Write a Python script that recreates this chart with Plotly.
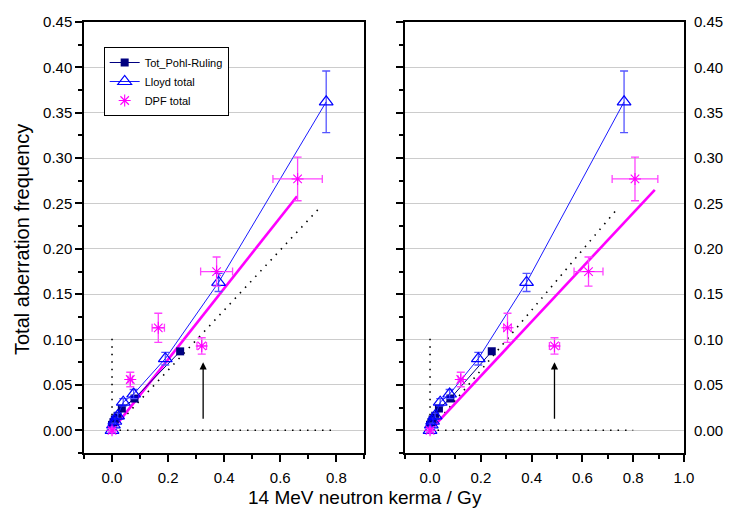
import plotly.graph_objects as go

# ---- data ----
pohl_x = [0.0, 0.005, 0.01, 0.02, 0.035, 0.08, 0.243]
pohl_y = [0.006, 0.009, 0.012, 0.016, 0.024, 0.035, 0.087]

lloyd_x = [0.0, 0.005, 0.01, 0.02, 0.04, 0.077, 0.19, 0.38, 0.764]
lloyd_y = [0.0, 0.006, 0.010, 0.016, 0.031, 0.040, 0.079, 0.163, 0.362]
lloyd_err = [0.002, 0.002, 0.003, 0.003, 0.004, 0.005, 0.007, 0.010, 0.034]

dpf_y = [0.0, 0.056, 0.113, 0.093, 0.175, 0.277]
dpf_yerr = [0.002, 0.008, 0.016, 0.009, 0.016, 0.024]
dpf_left_x = [0.0, 0.065, 0.165, 0.32, 0.373, 0.662]
dpf_left_xerr = [0.003, 0.008, 0.022, 0.017, 0.057, 0.088]
dpf_right_x = [0.0, 0.121, 0.305, 0.49, 0.624, 0.807]
dpf_right_xerr = [0.003, 0.010, 0.015, 0.020, 0.057, 0.090]

fit_left_x = [0.0, 0.66]
fit_left_y = [0.0, 0.258]
fit_right_x = [0.0, 0.885]
fit_right_y = [0.0, 0.265]

ref_diag_x = [0.0, 0.74]
ref_diag_y = [0.0, 0.245]
ref_vert_x = [0.0, 0.0]
ref_vert_y = [0.0, 0.103]
ref_horiz_x = [0.0, 0.8]
ref_horiz_y = [0.0, 0.0]

arrow_left_x = 0.325
arrow_right_x = 0.49
arrow_y = [0.011, 0.075]

y_ticks = [0.0, 0.05, 0.10, 0.15, 0.20, 0.25, 0.30, 0.35, 0.40, 0.45]

NAVY = "#000080"
BLUE = "#1a1aff"
BLUE_ERR = "#5555ff"
MAG = "#ff00ff"
MAG_ERR = "#ff44ff"
FONT = "Liberation Sans, Arial, sans-serif"

fig = go.Figure()

panels = [
    ("x", "y", dpf_left_x, dpf_left_xerr, fit_left_x, fit_left_y, True),
    ("x2", "y2", dpf_right_x, dpf_right_xerr, fit_right_x, fit_right_y, False),
]

for xa, ya, dx, dxe, fx, fy, leg in panels:
    dot = dict(color="black", width=1.6, dash="1.5px,6px")
    for rx, ry in [(ref_diag_x, ref_diag_y), (ref_vert_x, ref_vert_y), (ref_horiz_x, ref_horiz_y)]:
        fig.add_trace(go.Scatter(x=rx, y=ry, mode="lines", line=dot, xaxis=xa, yaxis=ya,
                                 showlegend=False, hoverinfo="skip"))
    fig.add_trace(go.Scatter(x=fx, y=fy, mode="lines", line=dict(color=MAG, width=2.6),
                             xaxis=xa, yaxis=ya, showlegend=False))
    fig.add_trace(go.Scatter(x=pohl_x, y=pohl_y, mode="lines+markers", name="Tot_Pohl-Ruling",
                             line=dict(color=NAVY, width=1),
                             marker=dict(symbol="square", size=8, color=NAVY),
                             xaxis=xa, yaxis=ya, showlegend=leg))
    fig.add_trace(go.Scatter(x=lloyd_x, y=lloyd_y, mode="lines+markers", name="Lloyd total",
                             line=dict(color=BLUE, width=1),
                             marker=dict(symbol="triangle-up-open", size=12, color="#0000ff",
                                         line=dict(width=1.2)),
                             error_y=dict(type="data", array=lloyd_err, color=BLUE_ERR,
                                          thickness=1.3, width=4),
                             xaxis=xa, yaxis=ya, showlegend=leg))
    fig.add_trace(go.Scatter(x=dx, y=dpf_y, mode="markers", name="DPF total",
                             marker=dict(symbol="asterisk-open", size=10, color=MAG,
                                         line=dict(width=1.1, color=MAG)),
                             error_y=dict(type="data", array=dpf_yerr, color=MAG_ERR,
                                          thickness=1.3, width=4),
                             error_x=dict(type="data", array=dxe, color=MAG_ERR,
                                          thickness=1.3, width=4),
                             xaxis=xa, yaxis=ya, showlegend=leg))

# invisible trace for right-hand label axis
fig.add_trace(go.Scatter(x=[0], y=[0], mode="markers", marker=dict(opacity=0),
                         xaxis="x2", yaxis="y3", showlegend=False, hoverinfo="skip"))

for ax, axx, ayy in [(arrow_left_x, "x", "y"), (arrow_right_x, "x2", "y2")]:
    fig.add_annotation(x=ax, y=arrow_y[1], ax=ax, ay=arrow_y[0], xref=axx, yref=ayy,
                       axref=axx, ayref=ayy, text="", showarrow=True, arrowhead=2,
                       arrowsize=1.1, arrowwidth=1.3, arrowcolor="black")

TF = dict(family=FONT, size=15, color="black")

xcommon = dict(showline=True, linecolor="black", linewidth=1.5, mirror=True,
               ticks="outside", ticklen=7, tickwidth=1.5, tickcolor="black",
               tick0=0, dtick=0.2, tickformat=".1f", showgrid=False, zeroline=False,
               tickfont=TF, ticklabelstandoff=3,
               minor=dict(dtick=0.1, ticks="outside", ticklen=4, tickwidth=1.5,
                          tickcolor="black", showgrid=False))
ycommon = dict(range=[-0.025, 0.45], showline=True, linecolor="black", linewidth=1.5,
               mirror=True, ticks="outside", ticklen=7, tickwidth=1.5, tickcolor="black",
               tickvals=y_ticks, tickformat=".2f", showgrid=True, gridcolor="#cccccc",
               gridwidth=1, zeroline=False, tickfont=TF,
               minor=dict(dtick=0.025, tick0=0, ticks="outside", ticklen=4, tickwidth=1.5,
                          tickcolor="black", showgrid=False))

L, R, T, B = 84, 41, 22, 55
W, H = 735, 508
pw = W - L - R
ph = H - T - B

fig.update_layout(
    width=W, height=H,
    margin=dict(l=L, r=R, t=T, b=B, pad=0),
    paper_bgcolor="white", plot_bgcolor="white",
    font=dict(family=FONT, color="black"),
    xaxis=dict(domain=[0, (369 - L) / pw], range=[-0.1, 0.9], anchor="y", **xcommon),
    xaxis2=dict(domain=[(410 - L) / pw, 1], range=[-0.1, 1.0], anchor="y2", **xcommon),
    yaxis=dict(anchor="x", domain=[0, 1], **ycommon),
    yaxis2=dict(anchor="x2", domain=[0, 1], showticklabels=False, **ycommon),
    yaxis3=dict(anchor="x2", overlaying="y2", side="right", range=[-0.025, 0.45],
                tickvals=y_ticks, tickformat=".2f", showgrid=False, zeroline=False,
                showline=False, ticks="outside", ticklen=6, tickcolor="rgba(0,0,0,0)",
                tickfont=TF),
    showlegend=True,
    legend=dict(x=(104 - L) / pw, y=1 - (47 - T) / ph, xanchor="left", yanchor="top",
                bgcolor="white", bordercolor="black", borderwidth=1,
                font=dict(family=FONT, size=11),
                itemwidth=30, tracegroupgap=0),
)

fig.add_annotation(text="14 MeV neutron kerma / Gy", xref="paper", yref="paper",
                   x=(370 - L) / pw, y=1 - (497 - T) / ph, xanchor="center", yanchor="middle",
                   showarrow=False, font=dict(family=FONT, size=19, color="black"))
fig.add_annotation(text="Total aberration frequency", xref="paper", yref="paper",
                   x=(21 - L) / pw, y=1 - (240 - T) / ph, xanchor="center", yanchor="middle",
                   textangle=-90, showarrow=False,
                   font=dict(family=FONT, size=20, color="black"))

fig.write_html("out.html", config={"displayModeBar": False},
               post_script="document.body.style.margin='0px';")
